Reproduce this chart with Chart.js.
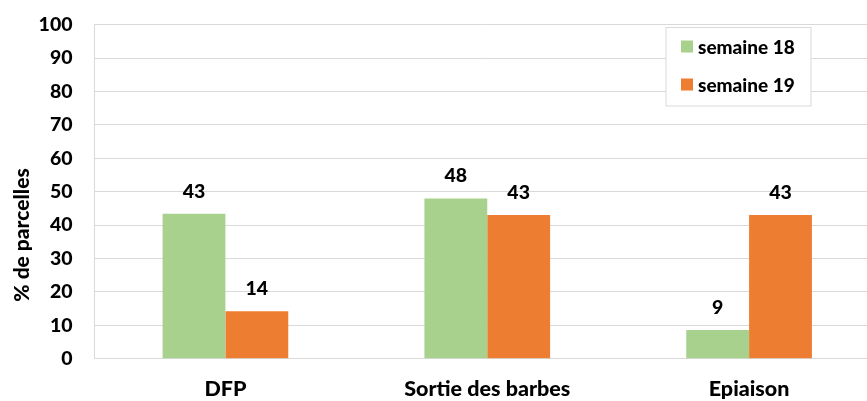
<!DOCTYPE html>
<html><head><meta charset="utf-8">
<script src="https://cdn.jsdelivr.net/npm/chart.js@4"></script>
<style>html,body{margin:0;padding:0;overflow:hidden;background:#fff;width:867px;height:401px}
#wrap{position:absolute;left:0;top:0;width:880px;height:401px}</style>
</head><body><div id="wrap"><canvas id="c" width="880" height="401"></canvas></div>
<script>
const categories = ["DFP", "Sortie des barbes", "Epiaison"];
const week18 = [43.4, 48.0, 8.6];
const week19 = [14.2, 43.0, 43.0];
const seriesNames = ["semaine 18", "semaine 19"];
const yTicks = [0,10,20,30,40,50,60,70,80,90,100];
const yTitle = "% de parcelles";
const FONT = "Lato, 'Open Sans', sans-serif";
const W = "900";

const labelPlugin = {
  id: 'labels',
  afterDatasetsDraw(chart) {
    const ctx = chart.ctx;
    ctx.save();
    ctx.font = W + " 19.5px " + FONT;
    ctx.fillStyle = "#000";
    ctx.textAlign = "center";
    ctx.textBaseline = "alphabetic";
    chart.data.datasets.forEach((ds, i) => {
      chart.getDatasetMeta(i).data.forEach((bar, j) => {
        ctx.fillText(String(Math.round(ds.data[j])), bar.x, bar.y - 16);
      });
    });
    ctx.restore();
  }
};
const titlePlugin = {
  id: 'yTitle',
  afterDraw(chart) {
    const ctx = chart.ctx;
    ctx.save();
    ctx.translate(22.5, 235);
    ctx.rotate(-Math.PI / 2);
    ctx.font = W + " 21px " + FONT;
    ctx.fillStyle = "#000";
    ctx.textAlign = "center";
    ctx.textBaseline = "middle";
    ctx.fillText(yTitle, 0, 0);
    ctx.restore();
  }
};
const legendPlugin = {
  id: 'boxLegend',
  afterDraw(chart) {
    const ctx = chart.ctx;
    ctx.save();
    const x0 = 666, y0 = 27.5, w = 145, h = 78.5;
    ctx.fillStyle = "#fff";
    ctx.fillRect(x0, y0, w, h);
    ctx.strokeStyle = "#d9d9d9";
    ctx.lineWidth = 1;
    ctx.strokeRect(x0, y0, w, h);
    ctx.font = W + " 19px " + FONT;
    ctx.textBaseline = "alphabetic";
    ctx.textAlign = "left";
    chart.data.datasets.forEach((ds, i) => {
      const cy = y0 + 19 + i * 38;
      ctx.fillStyle = ds.backgroundColor;
      ctx.fillRect(681, cy - 6, 12, 12);
      ctx.fillStyle = "#000";
      ctx.fillText(ds.label, 698, cy + 7);
    });
    ctx.restore();
  }
};

new Chart(document.getElementById('c'), {
  type: 'bar',
  data: {
    labels: categories,
    datasets: [
      {label: seriesNames[0], data: week18, backgroundColor: "#A9D18E"},
      {label: seriesNames[1], data: week19, backgroundColor: "#ED7D31"}
    ]
  },
  options: {
    responsive: false,
    animation: false,
    devicePixelRatio: 1,
    layout: {padding: {top: 24.7, left: 0, right: 0, bottom: 0}},
    plugins: {legend: {display: false}, tooltip: {enabled: false}},
    datasets: {bar: {categoryPercentage: 0.48, barPercentage: 1.0}},
    scales: {
      x: {
        grid: {display: false, drawTicks: false},
        border: {display: true, color: "#d9d9d9"},
        ticks: {color: "#000", font: {family: FONT, size: 21.5, weight: W}, padding: 17},
        afterFit(s) { s.height = 42.3; s.paddingLeft = 0; s.paddingRight = 0; }
      },
      y: {
        min: 0, max: 100,
        afterBuildTicks(s) { s.ticks = yTicks.map(v => ({value: v})); },
        grid: {color: "#d9d9d9", drawTicks: false},
        border: {display: true, color: "#d9d9d9"},
        ticks: {color: "#000", font: {family: FONT, size: 19.5, weight: W}, padding: 22},
        afterFit(s) { s.width = 94.5; s.paddingTop = 0; s.paddingBottom = 0; }
      }
    }
  },
  plugins: [labelPlugin, legendPlugin, titlePlugin]
});
</script></body></html>
